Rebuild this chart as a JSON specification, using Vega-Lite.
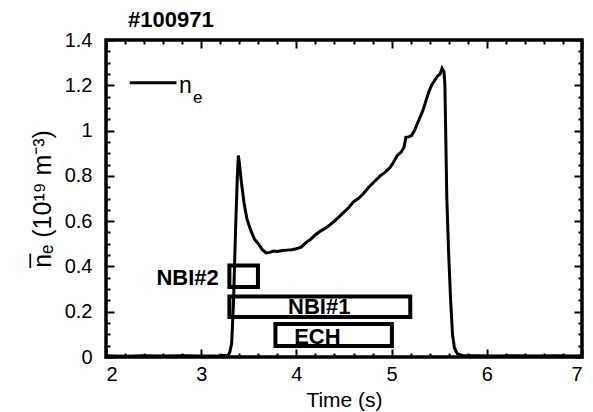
{
  "$schema": "https://vega.github.io/schema/vega-lite/v6.json",
  "width": 476,
  "height": 317,
  "autosize": "none",
  "padding": {"left": 106, "top": 40, "right": 11, "bottom": 55},
  "background": "white",
  "title": {"text": "#100971", "anchor": "start", "frame": "group", "dx": 22, "dy": 36, "fontSize": 22, "fontWeight": "bold", "font": "Liberation Sans", "color": "black", "baseline": "bottom", "offset": 12},
  "config": {
    "view": {"stroke": "black", "strokeWidth": 3.5},
    "axis": {"domain": false, "grid": false, "tickColor": "black", "tickWidth": 2, "labelFont": "Liberation Sans", "labelFontSize": 20, "labelColor": "black", "titleFont": "Liberation Sans", "titleFontSize": 21, "titleFontWeight": "normal", "titleColor": "black"}
  },
  "datasets": {
    "ne": [
      {"t": 2.0, "v": 0.005}, {"t": 2.2, "v": 0.003}, {"t": 2.4, "v": 0.006}, {"t": 2.6, "v": 0.004}, {"t": 2.8, "v": 0.005}, {"t": 3.0, "v": 0.004}, {"t": 3.2, "v": 0.006}, {"t": 3.28, "v": 0.008},
      {"t": 3.3, "v": 0.02}, {"t": 3.32, "v": 0.06}, {"t": 3.34, "v": 0.25}, {"t": 3.36, "v": 0.55}, {"t": 3.38, "v": 0.8}, {"t": 3.39, "v": 0.89}, {"t": 3.4, "v": 0.86},
      {"t": 3.42, "v": 0.78}, {"t": 3.45, "v": 0.68}, {"t": 3.48, "v": 0.61}, {"t": 3.52, "v": 0.56}, {"t": 3.56, "v": 0.52}, {"t": 3.6, "v": 0.5}, {"t": 3.64, "v": 0.475},
      {"t": 3.68, "v": 0.46}, {"t": 3.72, "v": 0.462}, {"t": 3.76, "v": 0.468}, {"t": 3.8, "v": 0.466}, {"t": 3.85, "v": 0.47}, {"t": 3.9, "v": 0.472}, {"t": 3.95, "v": 0.474},
      {"t": 4.0, "v": 0.478}, {"t": 4.05, "v": 0.485}, {"t": 4.1, "v": 0.505}, {"t": 4.15, "v": 0.52}, {"t": 4.2, "v": 0.54}, {"t": 4.25, "v": 0.555}, {"t": 4.3, "v": 0.568},
      {"t": 4.35, "v": 0.583}, {"t": 4.4, "v": 0.6}, {"t": 4.45, "v": 0.62}, {"t": 4.5, "v": 0.64}, {"t": 4.55, "v": 0.66}, {"t": 4.6, "v": 0.685}, {"t": 4.65, "v": 0.7},
      {"t": 4.7, "v": 0.72}, {"t": 4.76, "v": 0.75}, {"t": 4.82, "v": 0.775}, {"t": 4.88, "v": 0.8}, {"t": 4.93, "v": 0.815}, {"t": 4.98, "v": 0.835}, {"t": 5.02, "v": 0.86},
      {"t": 5.06, "v": 0.89}, {"t": 5.1, "v": 0.905}, {"t": 5.13, "v": 0.925}, {"t": 5.15, "v": 0.97}, {"t": 5.18, "v": 0.972}, {"t": 5.21, "v": 0.978}, {"t": 5.24, "v": 1.0},
      {"t": 5.27, "v": 1.03}, {"t": 5.3, "v": 1.06}, {"t": 5.33, "v": 1.09}, {"t": 5.36, "v": 1.13}, {"t": 5.39, "v": 1.17}, {"t": 5.42, "v": 1.2}, {"t": 5.45, "v": 1.22},
      {"t": 5.48, "v": 1.24}, {"t": 5.51, "v": 1.25}, {"t": 5.53, "v": 1.275}, {"t": 5.55, "v": 1.26}, {"t": 5.56, "v": 1.2}, {"t": 5.57, "v": 0.95}, {"t": 5.58, "v": 0.7},
      {"t": 5.6, "v": 0.45}, {"t": 5.62, "v": 0.25}, {"t": 5.64, "v": 0.1}, {"t": 5.66, "v": 0.04}, {"t": 5.69, "v": 0.015}, {"t": 5.75, "v": 0.005}, {"t": 5.9, "v": 0.006},
      {"t": 6.1, "v": 0.004}, {"t": 6.3, "v": 0.006}, {"t": 6.5, "v": 0.004}, {"t": 6.7, "v": 0.005}, {"t": 6.9, "v": 0.004}, {"t": 7.0, "v": 0.005}
    ],
    "boxes": [
      {"name": "NBI#2", "x1": 3.296, "x2": 3.596, "y1": 0.309, "y2": 0.404, "lx": 2.857, "ly": 0.349},
      {"name": "NBI#1", "x1": 3.296, "x2": 5.196, "y1": 0.177, "y2": 0.267, "lx": 4.24, "ly": 0.22},
      {"name": "ECH", "x1": 3.78, "x2": 5.003, "y1": 0.049, "y2": 0.146, "lx": 4.22, "ly": 0.09}
    ],
    "legend": [
      {"x1": 2.25, "x2": 2.74, "y": 1.211, "nx": 2.767, "ny": 1.165, "ex": 2.914, "ey": 1.12}
    ]
  },
  "layer": [
    {
      "data": {"name": "ne"},
      "mark": {"type": "line", "color": "black", "strokeWidth": 3},
      "encoding": {
        "x": {"field": "t", "type": "quantitative", "scale": {"domain": [2, 7], "nice": false},
          "axis": {"orient": "bottom", "title": "Time (s)", "titlePadding": 5,
            "values": [2,2.2,2.4,2.6,2.8,3,3.2,3.4,3.6,3.8,4,4.2,4.4,4.6,4.8,5,5.2,5.4,5.6,5.8,6,6.2,6.4,6.6,6.8,7],
            "tickSize": {"condition": {"test": "abs(datum.value - round(datum.value)) < 1e-6", "value": -8}, "value": -4},
            "labelPadding": 15,
            "labelExpr": "abs(datum.value - round(datum.value)) < 1e-6 ? format(datum.value, '~g') : ''"}},
        "y": {"field": "v", "type": "quantitative", "scale": {"domain": [0, 1.4], "nice": false},
          "axis": {"orient": "left", "title": "n̅ₑ (10¹⁹ m⁻³)", "titlePadding": 9, "titleFontSize": 25,
            "values": [0,0.05,0.1,0.15,0.2,0.25,0.3,0.35,0.4,0.45,0.5,0.55,0.6,0.65,0.7,0.75,0.8,0.85,0.9,0.95,1,1.05,1.1,1.15,1.2,1.25,1.3,1.35,1.4],
            "tickSize": {"condition": {"test": "abs(datum.value*5 - round(datum.value*5)) < 1e-6", "value": -8}, "value": -4},
            "labelPadding": 22,
            "labelExpr": "abs(datum.value*5 - round(datum.value*5)) < 1e-6 ? format(datum.value, '~g') : ''"}}
      }
    },
    {
      "data": {"name": "boxes"},
      "mark": {"type": "rect", "fillOpacity": 0, "stroke": "black", "strokeWidth": 4},
      "encoding": {
        "x": {"field": "x1", "type": "quantitative",
          "axis": {"orient": "top", "title": null, "labels": false,
            "values": [2,2.2,2.4,2.6,2.8,3,3.2,3.4,3.6,3.8,4,4.2,4.4,4.6,4.8,5,5.2,5.4,5.6,5.8,6,6.2,6.4,6.6,6.8,7],
            "tickSize": {"condition": {"test": "abs(datum.value - round(datum.value)) < 1e-6", "value": -8}, "value": -4}}},
        "x2": {"field": "x2"},
        "y": {"field": "y1", "type": "quantitative",
          "axis": {"orient": "right", "title": null, "labels": false,
            "values": [0,0.05,0.1,0.15,0.2,0.25,0.3,0.35,0.4,0.45,0.5,0.55,0.6,0.65,0.7,0.75,0.8,0.85,0.9,0.95,1,1.05,1.1,1.15,1.2,1.25,1.3,1.35,1.4],
            "tickSize": {"condition": {"test": "abs(datum.value*5 - round(datum.value*5)) < 1e-6", "value": -8}, "value": -4}}},
        "y2": {"field": "y2"}
      }
    },
    {
      "data": {"name": "boxes"},
      "mark": {"type": "text", "font": "Liberation Sans", "fontSize": 22, "fontWeight": "bold", "align": "center", "baseline": "middle", "color": "black"},
      "encoding": {
        "x": {"field": "lx", "type": "quantitative", "axis": null},
        "y": {"field": "ly", "type": "quantitative", "axis": null},
        "text": {"field": "name"}
      }
    },
    {
      "data": {"name": "legend"},
      "mark": {"type": "rule", "color": "black", "strokeWidth": 3},
      "encoding": {
        "x": {"field": "x1", "type": "quantitative", "axis": null},
        "x2": {"field": "x2"},
        "y": {"field": "y", "type": "quantitative", "axis": null}
      }
    },
    {
      "data": {"name": "legend"},
      "mark": {"type": "text", "text": "n", "font": "Liberation Sans", "fontSize": 23, "align": "left", "baseline": "alphabetic", "color": "black"},
      "encoding": {
        "x": {"field": "nx", "type": "quantitative", "axis": null},
        "y": {"field": "ny", "type": "quantitative", "axis": null}
      }
    },
    {
      "data": {"name": "legend"},
      "mark": {"type": "text", "text": "e", "font": "Liberation Sans", "fontSize": 17, "align": "left", "baseline": "alphabetic", "color": "black"},
      "encoding": {
        "x": {"field": "ex", "type": "quantitative", "axis": null},
        "y": {"field": "ey", "type": "quantitative", "axis": null}
      }
    }
  ],
  "resolve": {"axis": {"x": "independent", "y": "independent"}}
}
